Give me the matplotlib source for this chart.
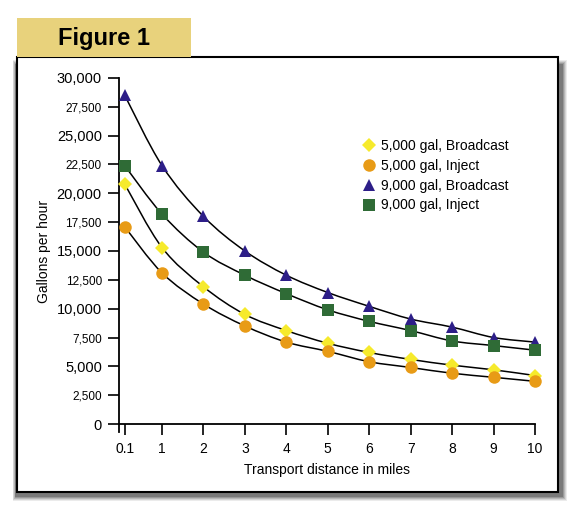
import numpy as np
import matplotlib
matplotlib.use("Agg")
import matplotlib.pyplot as plt
from matplotlib.patches import Rectangle, PathPatch
from matplotlib.path import Path
from matplotlib.ticker import FixedLocator, FuncFormatter

plt.rcParams['font.family'] = ['Liberation Sans Narrow', 'Liberation Sans', 'DejaVu Sans']

# data (gallons per hour)
distance = [0.1, 1, 2, 3, 4, 5, 6, 7, 8, 9, 10]
gal5000_broadcast = [20800, 15300, 11900, 9500, 8100, 7000, 6200, 5600, 5100, 4700, 4200]
gal5000_inject = [17100, 13100, 10400, 8500, 7100, 6300, 5400, 4900, 4400, 4050, 3700]
gal9000_broadcast = [28500, 22400, 18000, 15000, 12900, 11400, 10200, 9100, 8400, 7500, 7100]
gal9000_inject = [22400, 18200, 14900, 12900, 11300, 9900, 8900, 8100, 7200, 6800, 6400]
labels = ["5,000 gal, Broadcast", "5,000 gal, Inject", "9,000 gal, Broadcast", "9,000 gal, Inject"]

W, H = 575, 518
fig = plt.figure(figsize=(W / 100, H / 100), dpi=100)


def box(x0, y0, x1, y1, **kw):
    # rectangle given in pixel coords (top-left origin)
    r = Rectangle((x0 / W, 1 - y1 / H), (x1 - x0) / W, (y1 - y0) / H,
                  transform=fig.transFigure, **kw)
    fig.patches.append(r)


# drop shadow
for i, a in enumerate([0.08, 0.10, 0.13, 0.16, 0.20]):
    d = 5 - i
    box(13 + i * 0.5, 60 - d + 5, 561 + d + 1, 495 + d + 1,
        facecolor='black', edgecolor='none', alpha=a, zorder=0)
# frame
box(17, 57, 558, 492, facecolor='white', edgecolor='black', linewidth=1.5, zorder=1)
# title tab
box(17, 18, 191, 57, facecolor='#E8D27C', edgecolor='none', zorder=1)
fig.text(104 / W, 1 - 39 / H, "Figure 1", ha='center', va='center',
         fontsize=17, fontweight='bold', family=['Liberation Sans', 'DejaVu Sans'], zorder=3)

ax = fig.add_axes([118.5 / W, 1 - 424 / H, (535 - 118.5) / W, (424 - 78) / H])
ax.set_zorder(2)
ax.patch.set_alpha(0)
ax.set_xlim(-0.05, 10)
ax.set_ylim(0, 30000)
for s in ['top', 'right']:
    ax.spines[s].set_visible(False)
for s in ['left', 'bottom']:
    ax.spines[s].set_linewidth(1.3)
ax.spines['left'].set_bounds(-700, 30000)


def smooth_line(xs, ys):
    # catmull-rom style bezier through the points
    pts = np.column_stack([xs, ys]).astype(float)
    verts = [pts[0]]
    codes = [Path.MOVETO]
    n = len(pts)
    for i in range(n - 1):
        p0 = pts[i - 1] if i > 0 else pts[i]
        p1 = pts[i]
        p2 = pts[i + 1]
        p3 = pts[i + 2] if i + 2 < n else pts[i + 1]
        c1 = p1 + (p2 - p0) / 6
        c2 = p2 - (p3 - p1) / 6
        verts += [c1, c2, p2]
        codes += [Path.CURVE4] * 3
    ax.add_patch(PathPatch(Path(verts, codes), facecolor='none', edgecolor='black',
                           linewidth=1.1, zorder=2))


series = [
    (gal5000_broadcast, 'D', '#F6EA2C', 7.5),
    (gal5000_inject, 'o', '#E89B16', 9),
    (gal9000_broadcast, '^', '#2D1E88', 9),
    (gal9000_inject, 's', '#2F6B36', 8),
]
for (vals, m, c, ms), lab in zip(series, labels):
    smooth_line(distance, vals)
    ax.plot(distance, vals, linestyle='none', marker=m, color=c, markersize=ms,
            markeredgewidth=0, label=lab, zorder=3, clip_on=False)

ax.xaxis.set_major_locator(FixedLocator(distance))
ax.xaxis.set_major_formatter(FuncFormatter(lambda v, p: "%g" % v))
ax.tick_params(axis='x', direction='out', length=8, width=1.2, labelsize=10, pad=5)

ax.yaxis.set_major_locator(FixedLocator(range(0, 30001, 5000)))
ax.yaxis.set_minor_locator(FixedLocator(range(2500, 30000, 5000)))
fmt = FuncFormatter(lambda v, p: "{:,}".format(int(v)))
ax.yaxis.set_major_formatter(fmt)
ax.yaxis.set_minor_formatter(fmt)
ax.tick_params(axis='y', which='both', direction='out', length=8, width=1.2, pad=4)
ax.tick_params(axis='y', which='major', labelsize=10.5)
ax.tick_params(axis='y', which='minor', labelsize=8.5)

ax.set_xlabel("Transport distance in miles", fontsize=10, labelpad=5)
ax.set_ylabel("Gallons per hour", fontsize=10, labelpad=4)

ax.legend(loc='upper left', bbox_to_anchor=(355 / W, 1 - 132 / H),
          bbox_transform=fig.transFigure, frameon=False, fontsize=10,
          handlelength=1.0, handletextpad=0.4, labelspacing=0.42, borderpad=0)

fig.savefig("out.png", dpi=100)
